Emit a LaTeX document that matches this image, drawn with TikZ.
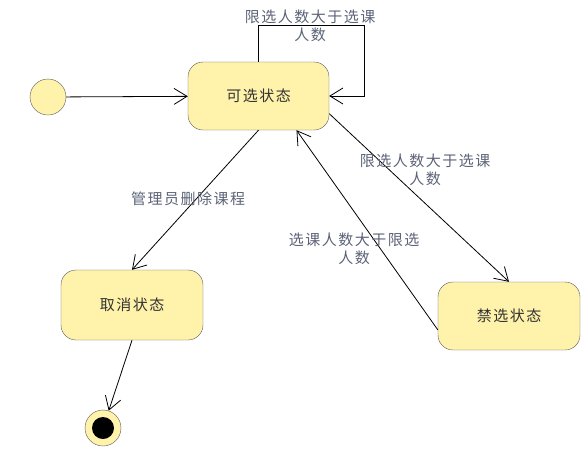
\documentclass[tikz,border=0pt]{standalone}
\usepackage{fontspec}
\usepackage{tikz}
\usetikzlibrary{arrows.meta,positioning}
\newfontfamily\cjk[LetterSpace=10]{Noto Sans CJK SC}
\definecolor{statefill}{HTML}{FFF2AB}
\definecolor{stateline}{HTML}{5A5A5A}
\definecolor{labeltext}{HTML}{5B6377}

\begin{document}
\begin{tikzpicture}[x=1pt, y=-1pt,
  state/.style={draw=stateline, fill=statefill, rounded corners=15pt, align=center, minimum width=141pt, minimum height=68pt, font=\cjk\fontsize{15}{18}\selectfont, text=black!80},
  start/.style={draw=stateline, fill=statefill, circle, minimum size=36pt, inner sep=0pt},
  lbl/.style={align=center, text=labeltext, font=\cjk\fontsize{15}{18.5}\selectfont},
  line/.style={-{Straight Barb[length=13pt, width=16pt]}, line width=0.8pt}
]
\useasboundingbox (0,0) rectangle (588,456);
\node[start] (init) at (48,97) {};
\node[state] (kx) at (258.5,96) {可选状态};
\node[state, minimum width=142pt, minimum height=70pt] (qx) at (132,305) {取消状态};
\node[state, minimum width=142pt] (jx) at (509,316) {禁选状态};
\node[start] (fin) at (103,428) {};
\node[circle, fill=black, minimum size=22pt, inner sep=0pt] (fdot) at (fin) {};
\coordinate (loopr) at (364,96);
\draw[line] (init) -- (kx);
\draw[line] (kx.north) -- ++(0,-36) -| (loopr) -- (kx.east);
\node[lbl] (l1) at (310,26) {限选人数大于选课\\人数};
\draw[line] (kx.south) -- (qx.north);
\node[lbl] (l2) at (188,199) {管理员删除课程};
\draw[line] (kx.-14) -- (jx.north);
\node[lbl] (l3) at (425,170) {限选人数大于选课\\人数};
\draw[line] (jx.191) -- (kx.-42);
\node[lbl] (l4) at (354,249) {选课人数大于限选\\人数};
\draw[line] (qx.south) -- (fin);
\end{tikzpicture}
\end{document}
